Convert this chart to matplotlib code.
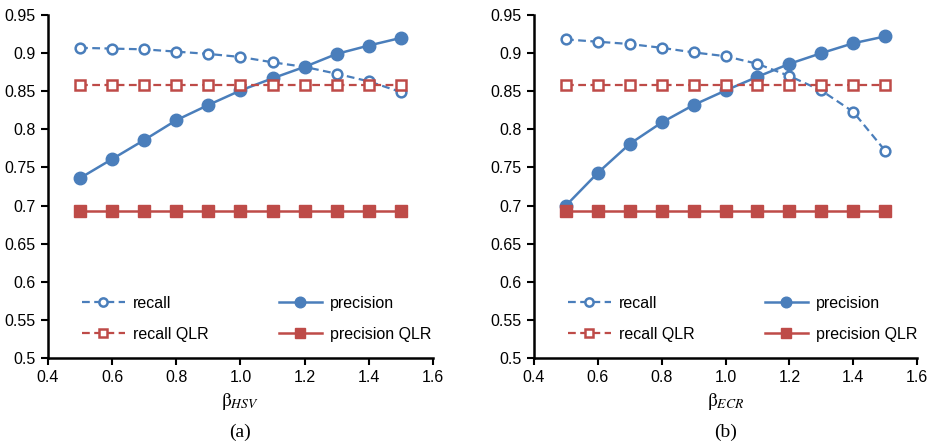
import matplotlib
matplotlib.use('Agg')
import matplotlib.pyplot as plt

beta = [0.5, 0.6, 0.7, 0.8, 0.9, 1.0, 1.1, 1.2, 1.3, 1.4, 1.5]

# (a) beta_HSV
recall_a = [0.907, 0.906, 0.905, 0.902, 0.899, 0.895, 0.888, 0.882, 0.873, 0.863, 0.849]
precision_a = [0.736, 0.761, 0.786, 0.812, 0.832, 0.851, 0.867, 0.882, 0.899, 0.910, 0.920]
recall_qlr_a = [0.858] * 11
precision_qlr_a = [0.693] * 11

# (b) beta_ECR
recall_b = [0.918, 0.915, 0.912, 0.907, 0.901, 0.896, 0.886, 0.870, 0.851, 0.823, 0.772]
precision_b = [0.700, 0.743, 0.781, 0.809, 0.832, 0.851, 0.869, 0.886, 0.900, 0.913, 0.922]
recall_qlr_b = [0.858] * 11
precision_qlr_b = [0.693] * 11

xlabels = [r'$\mathrm{\beta}_{\mathit{HSV}}$', r'$\mathrm{\beta}_{\mathit{ECR}}$']
panel_labels = ['(a)', '(b)']

BLUE = '#4a7ebb'
RED = '#be4b48'

plt.rcParams['font.family'] = ['Liberation Sans', 'DejaVu Sans']
plt.rcParams['mathtext.fontset'] = 'stix'

fig = plt.figure(figsize=(9.33, 4.43), dpi=100)
positions = [[0.0514, 0.192, 0.4126, 0.774], [0.5724, 0.192, 0.4105, 0.774]]
datasets = [(recall_a, precision_a, recall_qlr_a, precision_qlr_a),
            (recall_b, precision_b, recall_qlr_b, precision_qlr_b)]

for pos, (rec, prec, rq, pq), xl, pl in zip(positions, datasets, xlabels, panel_labels):
    ax = fig.add_axes(pos)
    l_rec, = ax.plot(beta, rec, '--', color=BLUE, lw=1.6, marker='o', ms=7,
                     mfc='white', mec=BLUE, mew=1.8, label='recall', dashes=(3.5, 2))
    l_prec, = ax.plot(beta, prec, '-', color=BLUE, lw=1.8, marker='o', ms=9,
                      mfc=BLUE, mec=BLUE, label='precision')
    l_rq, = ax.plot(beta, rq, '--', color=RED, lw=1.6, marker='s', ms=7,
                    mfc='white', mec=RED, mew=1.8, label='recall QLR', dashes=(3.5, 2))
    l_pq, = ax.plot(beta, pq, '-', color=RED, lw=1.8, marker='s', ms=9,
                    mfc=RED, mec=RED, label='precision QLR')

    ax.set_xlim(0.4, 1.6)
    ax.set_ylim(0.5, 0.95)
    ax.set_xticks([0.4, 0.6, 0.8, 1.0, 1.2, 1.4, 1.6])
    ax.set_xticklabels(['0.4', '0.6', '0.8', '1.0', '1.2', '1.4', '1.6'])
    ax.set_yticks([0.5, 0.55, 0.6, 0.65, 0.7, 0.75, 0.8, 0.85, 0.9, 0.95])
    ax.set_yticklabels(['0.5', '0.55', '0.6', '0.65', '0.7', '0.75', '0.8', '0.85', '0.9', '0.95'])
    for s in ['top', 'right']:
        ax.spines[s].set_visible(False)
    for s in ['left', 'bottom']:
        ax.spines[s].set_linewidth(1.8)
    ax.tick_params(direction='out', length=5, width=1.5, labelsize=11.5, pad=4)

    ax.legend([l_rec, l_rq, l_prec, l_pq], ['recall', 'recall QLR', 'precision', 'precision QLR'],
              ncol=2, frameon=False, loc='lower left', bbox_to_anchor=(0.088, 0.047),
              borderaxespad=0, borderpad=0, fontsize=11.5, handlelength=2.7,
              handletextpad=0.5, columnspacing=4.4, labelspacing=1.0,
              markerscale=0.85)

    ax.set_xlabel(xl, fontsize=14, labelpad=4)
    ax.text(0.5, -0.216, pl, transform=ax.transAxes, ha='center', va='center',
            fontsize=14, family='Liberation Serif')

fig.savefig('out.png', dpi=100)
